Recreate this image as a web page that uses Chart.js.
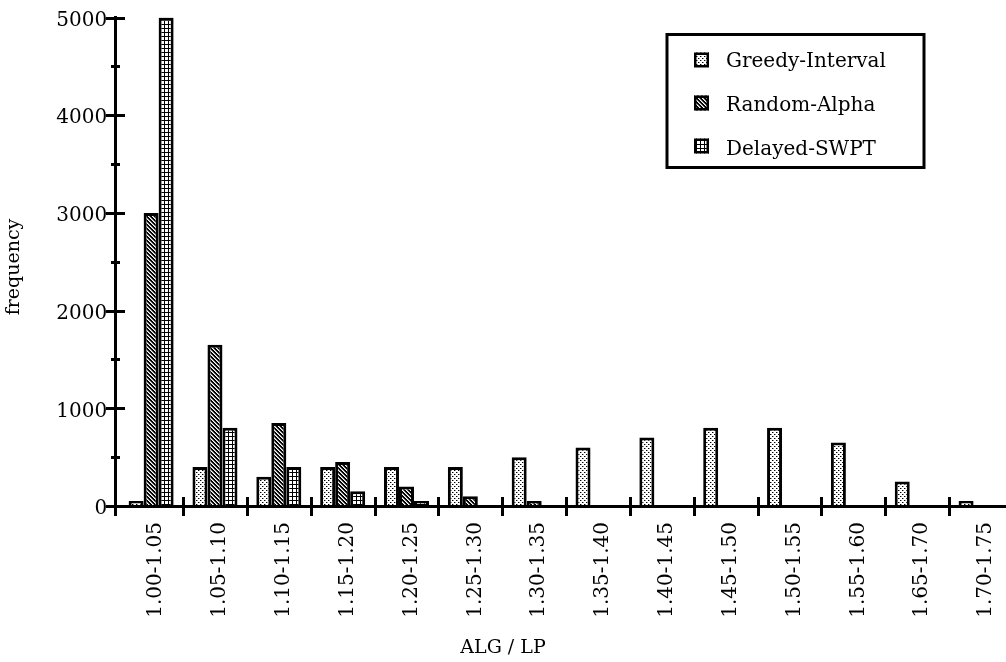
<!DOCTYPE html>
<html>
<head>
<meta charset="utf-8">
<script src="https://cdn.jsdelivr.net/npm/chart.js@4.4.0/dist/chart.umd.min.js"></script>
<style>
  html, body { margin: 0; padding: 0; background: #fff; overflow: hidden; }
  #wrap { width: 1006px; height: 662px; overflow: hidden; position: relative; }
  canvas { display: block; }
</style>
</head>
<body>
<div id="wrap"><canvas id="c" width="1013" height="662"></canvas></div>
<script>
// Ratio buckets (ALG / LP) and the frequency of each algorithm per bucket
const categories = [
  '1.00-1.05', '1.05-1.10', '1.10-1.15', '1.15-1.20', '1.20-1.25', '1.25-1.30', '1.30-1.35',
  '1.35-1.40', '1.40-1.45', '1.45-1.50', '1.50-1.55', '1.55-1.60', '1.65-1.70', '1.70-1.75'
];
const greedyInterval = [50, 400, 300, 400, 400, 400, 500, 600, 700, 800, 800, 650, 250, 50];
const randomAlpha    = [3000, 1650, 850, 450, 200, 100, 50, 0, 0, 0, 0, 0, 0, 0];
const delayedSWPT    = [5000, 800, 400, 150, 50, 0, 0, 0, 0, 0, 0, 0, 0, 0];
const seriesNames = ['Greedy-Interval', 'Random-Alpha', 'Delayed-SWPT'];
const yTicks = [0, 1000, 2000, 3000, 4000, 5000];
const yMinorTicks = [500, 1500, 2500, 3500, 4500];
const xTitle = 'ALG / LP';
const yTitle = 'frequency';

const FONT = 'DejaVu Serif';
const canvas = document.getElementById('c');
const ctx = canvas.getContext('2d');

// Monochrome fill patterns
function makePattern(size, paint) {
  const t = document.createElement('canvas');
  t.width = t.height = size;
  const g = t.getContext('2d');
  g.fillStyle = '#fff';
  g.fillRect(0, 0, size, size);
  paint(g);
  return ctx.createPattern(t, 'repeat');
}
const dotFill = makePattern(4, g => {
  g.fillStyle = '#000';
  g.fillRect(0, 0, 1, 1);
  g.fillRect(2, 2, 1, 1);
  g.fillStyle = '#999';
  g.fillRect(1, 0, 1, 1);
  g.fillRect(3, 2, 1, 1);
});
const hatchFill = makePattern(4, g => {
  for (let y = 0; y < 4; y++) {
    for (let x = 0; x < 4; x++) {
      const k = ((x - y) % 4 + 4) % 4;
      g.fillStyle = k === 0 ? '#fff' : (k === 1 ? '#999' : '#000');
      g.fillRect(x, y, 1, 1);
    }
  }
});
const gridFill = makePattern(4, g => {
  g.fillStyle = '#000';
  g.fillRect(0, 0, 4, 1);
  g.fillRect(0, 0, 1, 4);
});

// Axis lines with crossing tick marks, plus axis titles
const axesPlugin = {
  id: 'axesLines',
  afterDatasetsDraw(chart) {
    const { ctx, chartArea: a, scales: { x, y } } = chart;
    const ax = Math.round(a.left - 4) + 0.5;
    const y0 = Math.round(y.getPixelForValue(0)) + 0.5;
    const yTop = y.getPixelForValue(yTicks[yTicks.length - 1]);
    ctx.save();
    ctx.strokeStyle = '#000';
    ctx.lineWidth = 3;
    ctx.lineCap = 'butt';
    ctx.beginPath();
    ctx.moveTo(ax, yTop - 1.5);
    ctx.lineTo(ax, y0 + 9.5);
    ctx.moveTo(ax - 9.5, y0);
    ctx.lineTo(chart.width, y0);
    yTicks.forEach(v => {
      const py = Math.round(y.getPixelForValue(v)) + 0.5;
      ctx.moveTo(ax - 9.5, py);
      ctx.lineTo(ax + 9.5, py);
    });
    yMinorTicks.forEach(v => {
      const py = Math.round(y.getPixelForValue(v)) + 0.5;
      ctx.moveTo(ax - 4.5, py);
      ctx.lineTo(ax + 4.5, py);
    });
    const n = categories.length;
    for (let i = 1; i <= n; i++) {
      const bx = Math.round(x.left + i * x.width / n) + 0.5;
      ctx.moveTo(bx, y0 - 9.5);
      ctx.lineTo(bx, y0 + 9.5);
    }
    ctx.stroke();

    ctx.fillStyle = '#000';
    ctx.font = '19px "' + FONT + '"';
    ctx.textAlign = 'center';
    ctx.textBaseline = 'middle';
    ctx.fillText(xTitle, 503, 648);
    ctx.translate(14.5, 267);
    ctx.rotate(-Math.PI / 2);
    ctx.fillText(yTitle, 0, 0);
    ctx.restore();
  }
};

// Boxed legend in the upper right
const boxLegend = {
  id: 'boxLegend',
  afterDraw(chart) {
    const { ctx } = chart;
    ctx.save();
    ctx.strokeStyle = '#000';
    ctx.lineWidth = 3;
    ctx.strokeRect(667, 34.5, 257, 133);
    ctx.font = '20px "' + FONT + '"';
    ctx.textAlign = 'left';
    ctx.textBaseline = 'alphabetic';
    chart.data.datasets.forEach((ds, i) => {
      const cy = 60 + i * 43;
      ctx.fillStyle = ds.backgroundColor;
      ctx.fillRect(694, cy - 7.5, 15, 15);
      ctx.lineWidth = 2.5;
      ctx.strokeRect(695.25, cy - 6.25, 12.5, 12.5);
      ctx.fillStyle = '#000';
      ctx.fillText(ds.label, 726, 66.5 + i * 44.2);
    });
    ctx.restore();
  }
};

const barStyle = { borderColor: '#000', borderWidth: 3, borderSkipped: 'start' };

new Chart(ctx, {
  type: 'bar',
  data: {
    labels: categories,
    datasets: [
      Object.assign({ label: seriesNames[0], data: greedyInterval, backgroundColor: dotFill }, barStyle),
      Object.assign({ label: seriesNames[1], data: randomAlpha, backgroundColor: hatchFill }, barStyle),
      Object.assign({ label: seriesNames[2], data: delayedSWPT, backgroundColor: gridFill }, barStyle)
    ]
  },
  options: {
    responsive: false,
    animation: false,
    devicePixelRatio: 1,
    layout: { padding: { top: 17.5, left: 0, right: 0, bottom: 0 } },
    datasets: { bar: { categoryPercentage: 0.705, barPercentage: 1 } },
    plugins: { legend: { display: false }, tooltip: { enabled: false } },
    scales: {
      x: {
        grid: { display: false, drawTicks: false },
        border: { display: false },
        ticks: {
          color: '#000',
          font: { family: FONT, size: 20 },
          minRotation: 90, maxRotation: 90,
          padding: 16, labelOffset: 5, autoSkip: false
        },
        afterFit(s) { s.height = 156; s.paddingLeft = 0; s.paddingRight = 0; }
      },
      y: {
        min: 0, max: 5000,
        grid: { display: false, drawTicks: false },
        border: { display: false },
        afterBuildTicks(s) { s.ticks = yTicks.map(v => ({ value: v })); },
        ticks: {
          color: '#000',
          font: { family: FONT, size: 20 },
          padding: 12, labelOffset: 3,
          callback: v => String(v)
        },
        afterFit(s) { s.width = 119.2; s.paddingTop = 0; s.paddingBottom = 0; }
      }
    }
  },
  plugins: [axesPlugin, boxLegend]
});
</script>
</body>
</html>
